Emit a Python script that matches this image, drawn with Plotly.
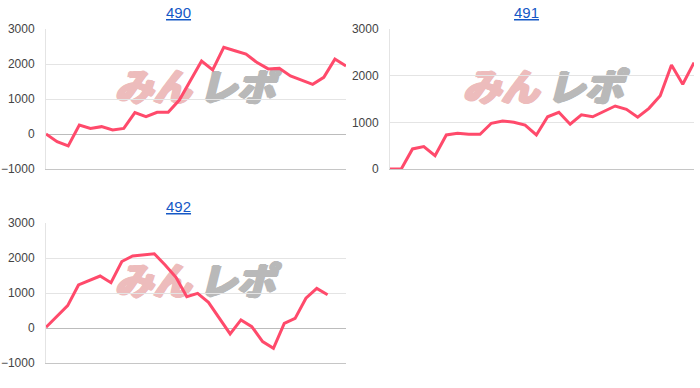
import plotly.graph_objects as go

titles = ["490", "491", "492"]
y490 = [0, -220, -340, 257, 160, 210, 115, 160, 610, 495, 620, 620, 970, 1540,
        2085, 1830, 2475, 2380, 2285, 2040, 1860, 1875, 1660, 1540, 1420, 1620, 2140, 1940]
y491 = [0, 0, 430, 480, 285, 730, 765, 745, 745, 980, 1030, 1000, 940, 730, 1120,
        1215, 960, 1160, 1120, 1230, 1350, 1280, 1110, 1300, 1570, 2230, 1815, 2280]
y492 = [20, 325, 640, 1230, 1350, 1485, 1295, 1900, 2060, 2090, 2120, 1800, 1450,
        895, 990, 735, 275, -170, 230, 40, -390, -580, 130, 275, 850, 1130, 950]
y_ticks_a = [-1000, 0, 1000, 2000, 3000]
y_ticks_b = [0, 1000, 2000, 3000]

W, H = 700, 388
LINE = "#ff4a6b"

def px(x):
    return x / W

def py(y):
    return 1 - y / H

fig = go.Figure()
series = [y490, y491, y492]
for i, ys in enumerate(series):
    fig.add_trace(go.Scatter(
        x=list(range(len(ys))), y=ys, mode="lines",
        line=dict(color=LINE, width=3), hoverinfo="skip",
        xaxis="x" if i == 0 else f"x{i+1}", yaxis="y" if i == 0 else f"y{i+1}",
        showlegend=False))

domains = [
    ((46, 346), (169, 29), [-1000, 3000], y_ticks_a, [0, 27]),
    ((390, 694), (169, 29), [0, 3000], y_ticks_b, [0, 27]),
    ((46, 346), (363, 223), [-1000, 3000], y_ticks_a, [0, 27.7]),
]
layout = dict(width=W, height=H, margin=dict(l=0, r=0, t=0, b=0, pad=0),
              autosize=False,
              paper_bgcolor="white", plot_bgcolor="white", showlegend=False)
for i, (xd, yd, yr, yt, xr) in enumerate(domains):
    sx = "" if i == 0 else str(i + 1)
    layout["xaxis" + sx] = dict(domain=[px(xd[0]), px(xd[1])], range=xr,
                                anchor="y" + sx, showgrid=False, zeroline=False,
                                showticklabels=False, showline=True,
                                linecolor="#c6c6c6", linewidth=1, fixedrange=True)
    layout["yaxis" + sx] = dict(domain=[py(yd[0]), py(yd[1])], range=yr,
                                anchor="x" + sx, tickvals=yt, automargin=False,
                                tickfont=dict(family="Arial, Liberation Sans", size=12, color="#444"),
                                ticks="outside", ticklen=8, tickcolor="rgba(0,0,0,0)",
                                showgrid=True, gridcolor="#e4e4e4", gridwidth=1,
                                zeroline=True, zerolinecolor="#bcbcbc", zerolinewidth=1,
                                showline=True, linecolor="#e4e4e4", linewidth=1,
                                fixedrange=True)
fig.update_layout(**layout)

title_pos = [(178, 12), (526, 12), (178, 206)]
for t, (tx, ty) in zip(titles, title_pos):
    fig.add_annotation(text=t, xref="paper", yref="paper", x=px(tx), y=py(ty),
                       showarrow=False, xanchor="center", yanchor="middle",
                       font=dict(family="Arial, Liberation Sans", size=15,
                                 color="#1558c6", lineposition="under"))

# watermark "みんレポ"
def thick(c):
    return ", ".join(f"{dx}px {dy}px 0 {c}" for dx, dy in
                     [(1, 0), (-1, 0), (0, 1), (0, -1), (1, 1), (-1, -1), (2, 0), (-2, 0)])

wm_pos = [(195, 90), (543, 90), (195, 284)]
for cx, cy in wm_pos:
    for txt, dx, col in [("みん", -42, "#edbcbc"),
                         ("レポ", 42, "#b9b9b9")]:
        fig.add_shape(type="rect", xref="paper", yref="paper",
                      x0=px(cx + dx - 42), x1=px(cx + dx + 42),
                      y0=py(cy + 20), y1=py(cy - 20),
                      line=dict(width=0), fillcolor="rgba(0,0,0,0)", layer="between",
                      label=dict(text=txt, textposition="middle center",
                                 font=dict(family="Noto Sans CJK JP", size=38, color=col,
                                           weight="bold", style="italic",
                                           shadow=thick(col))))

fig.write_html("out.html")
